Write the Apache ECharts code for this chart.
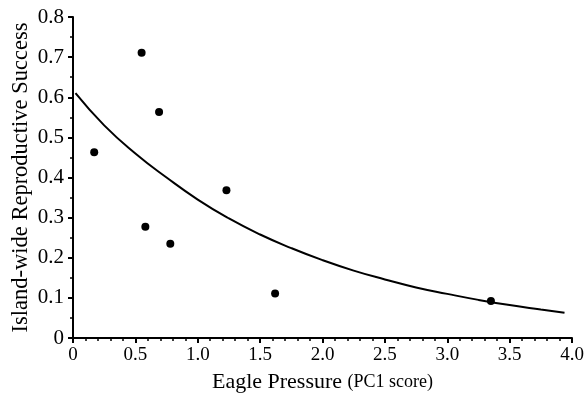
<!DOCTYPE html>
<html>
<head>
<meta charset="utf-8">
<script src="https://cdn.jsdelivr.net/npm/echarts@6/dist/echarts.min.js"></script>
<style>html,body{margin:0;padding:0;background:#fff}#c{width:586px;height:396px}</style>
</head>
<body>
<div id="c"></div>
<script>
// Observed data points (Eagle pressure PC1 score, reproductive success)
const pointX = [0.17, 0.55, 0.69, 0.58, 0.78, 1.23, 1.62, 3.35];
const pointY = [0.463, 0.711, 0.563, 0.277, 0.235, 0.368, 0.111, 0.092];
// Fitted curve
const curveX = [0.02, 0.25, 0.5, 0.75, 1.0, 1.25, 1.5, 1.75, 2.0, 2.25, 2.5, 2.75, 3.0, 3.25, 3.5, 3.75, 3.94];
const curveY = [0.610, 0.530, 0.460, 0.400, 0.345, 0.298, 0.258, 0.224, 0.194, 0.168, 0.146, 0.126, 0.110, 0.095, 0.082, 0.071, 0.063];

const FONT = 'Liberation Serif';
const chart = echarts.init(document.getElementById('c'), null, {renderer: 'canvas'});
chart.setOption({
  animation: false,
  backgroundColor: '#fff',
  grid: {left: 73, right: 14, top: 17, bottom: 58, containLabel: false, outerBoundsMode: 'none'},
  xAxis: {
    type: 'value', min: 0, max: 4, interval: 0.5,
    name: '{a|Eagle Pressure }{b|(PC1 score)}',
    nameLocation: 'middle', nameGap: 33,
    nameTextStyle: {rich: {a: {fontFamily: FONT, fontSize: 22, color: '#000'}, b: {fontFamily: FONT, fontSize: 18, color: '#000'}}},
    axisLine: {show: true, onZero: false, lineStyle: {color: '#000', width: 2}},
    axisTick: {show: true, inside: false, length: 5, lineStyle: {color: '#000', width: 2}},
    minorTick: {show: true, splitNumber: 5, length: 3, lineStyle: {color: '#000', width: 1.5}},
    splitLine: {show: false},
    axisLabel: {fontFamily: FONT, fontSize: 19, color: '#000', margin: 8,
      formatter: v => v === 0 ? '0' : v.toFixed(1)}
  },
  yAxis: {
    type: 'value', min: 0, max: 0.8, interval: 0.1,
    name: 'Island-wide Reproductive Success',
    nameLocation: 'middle', nameGap: 40, nameMoveOverlap: false,
    nameTextStyle: {fontFamily: FONT, fontSize: 22.5, color: '#000'},
    axisLine: {show: true, onZero: false, lineStyle: {color: '#000', width: 2}},
    axisTick: {show: true, inside: false, length: 5, lineStyle: {color: '#000', width: 2}},
    minorTick: {show: true, splitNumber: 2, length: 3, lineStyle: {color: '#000', width: 1.5}},
    splitLine: {show: false},
    axisLabel: {fontFamily: FONT, fontSize: 21, color: '#000', margin: 9,
      formatter: v => v === 0 ? '0' : v.toFixed(1)}
  },
  series: [
    {
      type: 'line', smooth: true, symbol: 'none',
      data: curveX.map((x, i) => [x, curveY[i]]),
      lineStyle: {color: '#000', width: 2}
    },
    {
      type: 'scatter', symbol: 'circle', symbolSize: 8,
      data: pointX.map((x, i) => [x, pointY[i]]),
      itemStyle: {color: '#000', opacity: 1}
    }
  ]
});
</script>
</body>
</html>
